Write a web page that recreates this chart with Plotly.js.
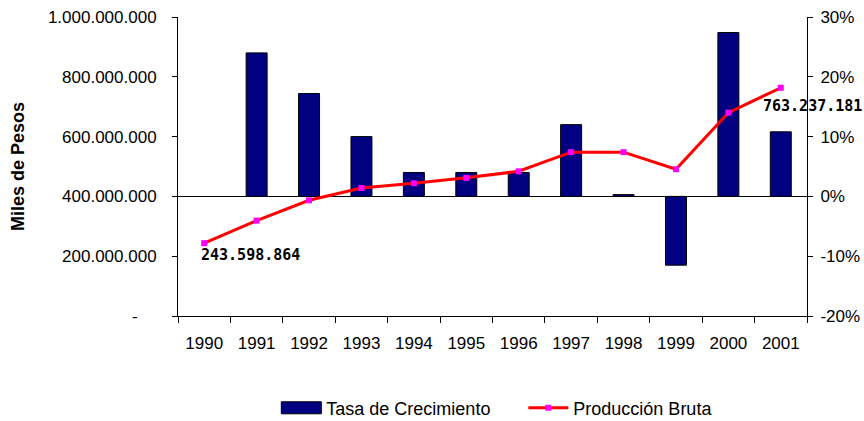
<!DOCTYPE html>
<html>
<head>
<meta charset="utf-8">
<script src="https://cdn.plot.ly/plotly-3.0.1.min.js"></script>
<style>html,body{margin:0;padding:0;background:#fff;}#chart{width:864px;height:421px;}</style>
</head>
<body>
<div id="chart"></div>
<script>
// ---- data ----
const years = ['1990','1991','1992','1993','1994','1995','1996','1997','1998','1999','2000','2001'];
const tasaCrecimiento = [null, 0.240, 0.172, 0.100, 0.040, 0.040, 0.040, 0.120, 0.003, -0.115, 0.274, 0.108];
const produccionBruta = [243598864, 319000000, 387000000, 428000000, 444000000, 462000000, 484000000, 548000000, 548000000, 491000000, 680000000, 763237181];
const pesosTicks = [0, 200000000, 400000000, 600000000, 800000000, 1000000000];
const pctTicks = [-0.2, -0.1, 0, 0.1, 0.2, 0.3];
const pctTickText = ['-20%', '-10%', '0%', '10%', '20%', '30%'];

function fmtDots(v) {
  const s = Math.round(v).toString();
  return s.replace(/\B(?=(\d{3})+(?!\d))/g, '.');
}
const NB = '\u00a0';
const pesosTickText = pesosTicks.map(v => v === 0 ? '-' + NB + NB + NB + NB : fmtDots(v));

const FONT = 'Liberation Sans, Arial, sans-serif';
const LABEL_FONT = { family: 'DejaVu Sans Mono, monospace', size: 15, weight: 'bold', color: '#000' };

const traces = [
  {
    type: 'bar',
    name: 'Tasa de Crecimiento',
    x: years,
    y: tasaCrecimiento,
    yaxis: 'y',
    marker: { color: '#000080', line: { color: '#000000', width: 1 } },
    hoverinfo: 'skip'
  },
  {
    type: 'scatter',
    mode: 'lines+markers',
    name: 'Producción Bruta',
    x: years,
    y: produccionBruta,
    yaxis: 'y2',
    line: { color: '#FF0000', width: 3 },
    marker: { color: '#FF00FF', symbol: 'square', size: 6 },
    hoverinfo: 'skip'
  }
];

const last = produccionBruta.length - 1;
const layout = {
  width: 864,
  height: 421,
  margin: { l: 178, r: 57, t: 17, b: 105, autoexpand: false },
  paper_bgcolor: '#ffffff',
  plot_bgcolor: '#ffffff',
  font: { family: FONT, size: 17, color: '#000000' },
  bargap: 0.6,
  showlegend: true,
  legend: {
    orientation: 'h',
    x: 0.549, xanchor: 'center',
    y: -0.308, yanchor: 'middle',
    font: { family: FONT, size: 18, color: '#000' },
    itemwidth: 40,
    entrywidth: 192,
    traceorder: 'normal'
  },
  xaxis: {
    type: 'category',
    range: [-0.5, years.length - 0.5],
    showline: true, linecolor: '#000', linewidth: 1,
    ticks: 'outside', ticklen: 6, tickcolor: '#000',
    tickson: 'boundaries',
    tickangle: 0,
    ticklabelstandoff: 12,
    showgrid: false, zeroline: false,
    tickfont: { family: FONT, size: 17 }
  },
  yaxis: {
    side: 'right',
    range: [-0.2, 0.3],
    tickvals: pctTicks,
    ticktext: pctTickText,
    showline: true, linecolor: '#000', linewidth: 1,
    ticks: 'outside', ticklen: 5, tickcolor: '#000',
    showgrid: false,
    zeroline: true, zerolinecolor: '#000', zerolinewidth: 1,
    ticklabelstandoff: 4,
    tickfont: { family: FONT, size: 17 }
  },
  yaxis2: {
    overlaying: 'y',
    side: 'left',
    range: [0, 1000000000],
    tickvals: pesosTicks,
    ticktext: pesosTickText,
    showline: true, linecolor: '#000', linewidth: 1,
    ticks: 'outside', ticklen: 5, tickcolor: '#000',
    showgrid: false, zeroline: false,
    ticklabelstandoff: 12,
    tickfont: { family: FONT, size: 17 },
    title: { text: 'Miles de Pesos' + NB + NB + NB, font: { family: FONT, size: 18, weight: 'bold' }, standoff: 18 }
  },
  annotations: [
    {
      xref: 'x', yref: 'y2',
      x: 0, y: produccionBruta[0],
      text: fmtDots(produccionBruta[0]),
      showarrow: false,
      xanchor: 'left', yanchor: 'top',
      xshift: -5, yshift: -1,
      font: LABEL_FONT
    },
    {
      xref: 'x', yref: 'y2',
      x: last, y: produccionBruta[last],
      text: fmtDots(produccionBruta[last]),
      showarrow: false,
      xanchor: 'left', yanchor: 'top',
      xshift: -20, yshift: -7,
      font: LABEL_FONT
    }
  ]
};

Plotly.newPlot('chart', traces, layout, { staticPlot: true, displayModeBar: false }).then(function (gd) {
  // widen the bar legend swatch to match the reference's wide rectangle
  const items = gd.querySelectorAll('.legend .traces');
  if (items.length) {
    const p = items[0].querySelector('.legendpoints path');
    if (p) p.setAttribute('d', 'M20,6H-20V-6H20Z');
  }
});
</script>
</body>
</html>
